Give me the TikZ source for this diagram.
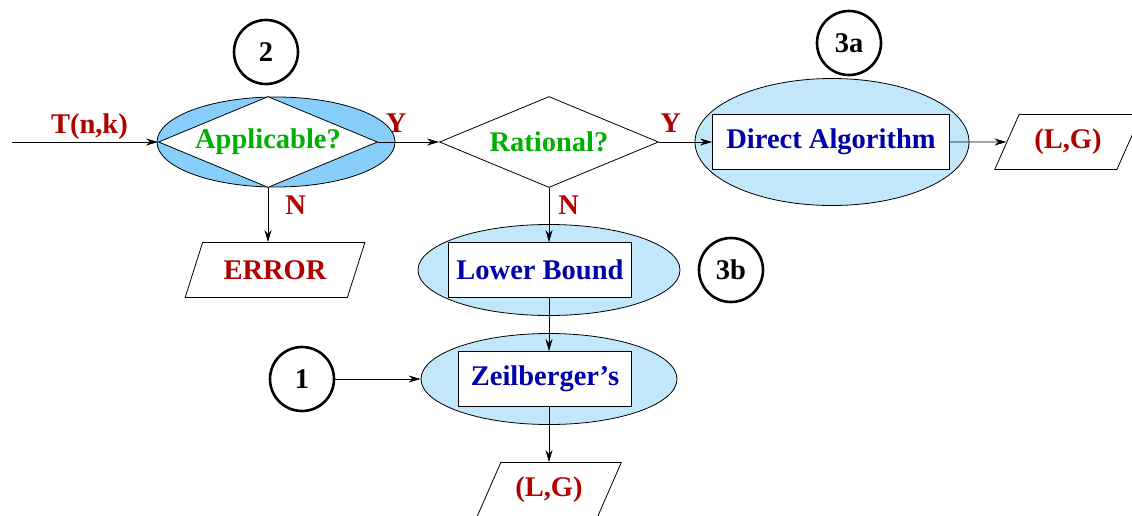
\documentclass[tikz,border=0pt]{standalone}
\usepackage{fontspec}
\setmainfont{Liberation Serif}
\usepackage{tikz}
\usetikzlibrary{arrows.meta,shapes.geometric,positioning}
\definecolor{errred}{RGB}{176,0,0}
\definecolor{okgreen}{RGB}{0,176,0}
\definecolor{algoblue}{RGB}{0,0,170}
\definecolor{stagefill}{RGB}{194,230,250}
\definecolor{appfill}{RGB}{135,206,250}

\begin{document}
\begin{tikzpicture}[
  x=1pt,y=-1pt,
  font=\fontsize{28.5}{32}\selectfont\bfseries,
  >={Stealth[length=12pt,width=7pt]},
  line width=0.8pt,
  test/.style={diamond,draw,fill=white,aspect=2.4,inner sep=0pt,minimum width=219pt,minimum height=91pt,text=okgreen},
  stage/.style={ellipse,draw,fill=stagefill,inner sep=0pt},
  algo/.style={rectangle,draw,fill=white,text=algoblue,minimum height=55pt,inner sep=0pt},
  io/.style={trapezium,draw,fill=white,trapezium left angle=57,trapezium right angle=123,trapezium stretches=true,minimum height=55pt,inner sep=0pt,text=errred},
  tag/.style={circle,draw,line width=2.6pt,minimum size=64pt,inner sep=0pt},
  yn/.style={text=errred,inner sep=1pt},
]
\useasboundingbox (0,0) rectangle (1132,515);

% stage 2: applicability test
\node[stage,fill=appfill,minimum width=238pt,minimum height=90pt] (appbg) at (276,142) {};
\node[test] (app) at (268,142) {Applicable?};
\node[test] (rat) at (549,142) {Rational?};
% stage 3a
\node[stage,minimum width=274pt,minimum height=127pt] (dirbg) at (832,142) {};
\node[algo,minimum width=237pt] (dir) at (831,142) {Direct Algorithm};
\node[io,minimum width=147pt] (out1) at (1068,142) {(L,G)};
\node[io,minimum width=180pt] (err) at (275,270) {ERROR};
% stage 3b and 1
\node[stage,minimum width=262pt,minimum height=91pt] (lowbg) at (549,270) {};
\node[algo,minimum width=183pt] (low) at (540,270) {Lower Bound};
\node[stage,minimum width=256pt,minimum height=91pt] (zeilbg) at (549,379) {};
\node[algo,minimum width=173pt] (zeil) at (545,379) {Zeilberger's};
\node[io,minimum width=145pt] (out2) at (549,490) {(L,G)};

% step tags
\node[tag] (t2) at (266,52) {2};
\node[tag] (t3a) at (849,43) {3a};
\node[tag] (t3b) at (731,270) {3b};
\node[tag] (t1) at (302,379) {1};

\coordinate (in) at (12,142);
\draw[->] (in) -- node[yn,above=1pt,pos=0.53]{T(n,k)} (app.west);
\draw[->] (app.east) -- node[yn,above=8pt,pos=0.3]{Y} (rat.west);
\draw[->] (rat.east) -- node[yn,above=8pt,pos=0.22]{Y} (dir.west);
\draw[->] (dir.east) -- (out1.west);
\draw[->] (app.south) -- node[yn,right=16pt,pos=0.32]{N} (app.south |- err.north);
\draw[->] (rat.south) -- node[yn,right=8pt,pos=0.32]{N} (rat.south |- low.north);
\draw[->] (low.south -| lowbg) -- (zeil.north -| lowbg);
\draw[->] (t1.east) -- (zeilbg.west);
\draw[->] (zeil.south -| zeilbg) -- (out2.north -| zeilbg);
\end{tikzpicture}
\end{document}
